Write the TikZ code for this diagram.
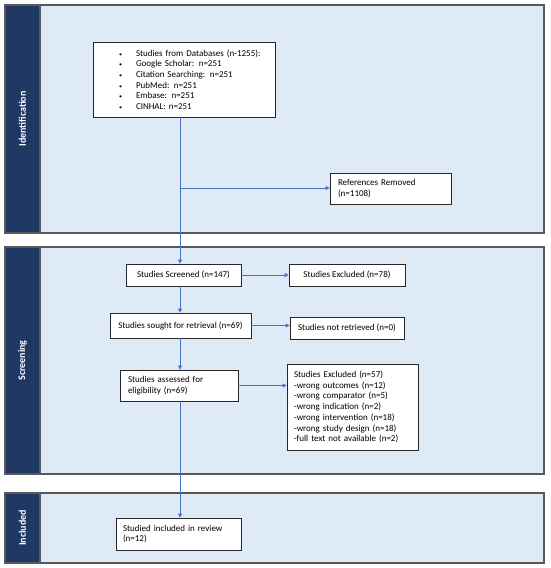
\documentclass[tikz,border=0pt]{standalone}
\usepackage{fontspec}
\setmainfont{Carlito}
\usetikzlibrary{arrows.meta}
\definecolor{panelblue}{HTML}{DEEBF7}
\definecolor{sidenavy}{HTML}{1F3864}
\definecolor{flowblue}{HTML}{4472C4}
\def\dbitem#1{\hspace*{26pt}\makebox[17pt][l]{\fontsize{6}{6}\selectfont\textbullet}#1}

\begin{document}
\begin{tikzpicture}[x=1pt,y=-1pt,
  panel/.style={draw=black!65, line width=1.1pt, fill=panelblue},
  sidebar/.style={draw=black!65, line width=1.1pt, fill=sidenavy},
  phase/.style={rotate=90, text=white, font=\fontsize{10}{12}\selectfont\bfseries},
  box/.style={draw=black!85, fill=white, line width=0.8pt, inner ysep=0pt,
    align=left, font=\fontsize{9}{10.7}\selectfont},
  arr/.style={draw=flowblue, line width=0.8pt, -{Triangle[length=4pt,width=4pt]}}]
\useasboundingbox (0,0) rectangle (550,568);
% phases
\draw[panel] (5,5) rectangle (544,233);
\draw[sidebar] (5,5) rectangle (40,233);
\node[phase] (ident) at (22.5,119) {Identification};
\draw[panel] (5,247) rectangle (544,474);
\draw[sidebar] (5,247) rectangle (40,474);
\node[phase] (screen) at (22.5,360.5) {Screening};
\draw[panel] (5,493) rectangle (544,563);
\draw[sidebar] (5,493) rectangle (40,563);
\node[phase] (incl) at (22.5,528) {Included};
% boxes
\node[box, inner xsep=0pt, text width=182pt, minimum height=75pt] (db) at (184,79.5)
  {\dbitem{Studies from Databases (n-1255):}\\
   \dbitem{Google Scholar: n=251}\\
   \dbitem{Citation Searching: n=251}\\
   \dbitem{PubMed: n=251}\\
   \dbitem{Embase: n=251}\\
   \dbitem{CINHAL: n=251}};
\node[box, inner xsep=8pt, text width=105pt, minimum height=31pt] (removed) at (390.5,188.5)
  {References Removed\\(n=1108)};
\node[box, inner xsep=2pt, minimum width=115pt, minimum height=22pt] (screened) at (183.5,275)
  {Studies Screened (n=147)};
\node[box, inner xsep=2pt, minimum width=116pt, minimum height=22pt] (excl78) at (347,275)
  {Studies Excluded (n=78)};
\node[box, inner xsep=2pt, minimum width=141pt, minimum height=25pt] (sought) at (180.5,325.5)
  {Studies sought for retrieval (n=69)};
\node[box, inner xsep=2pt, minimum width=114pt, minimum height=22pt] (notret) at (347,328)
  {Studies not retrieved (n=0)};
\node[box, inner xsep=8pt, text width=102pt, minimum height=31pt] (assessed) at (179,385.5)
  {Studies assessed for\\eligibility (n=69)};
\node[box, inner xsep=7pt, text width=117pt, minimum height=86pt] (excl57) at (352.5,407)
  {Studies Excluded (n=57)\\
   -wrong outcomes (n=12)\\
   -wrong comparator (n=5)\\
   -wrong indication (n=2)\\
   -wrong intervention (n=18)\\
   -wrong study design (n=18)\\
   -full text not available (n=2)};
\node[box, inner xsep=7pt, text width=111pt, minimum height=32pt] (included) at (178.5,534)
  {Studied included in review\\(n=12)};
% flow
\coordinate (split) at (180,188);
\draw[arr] (db.south -| split) -- (screened.north -| split);
\draw[arr] (split) -- (removed.west |- split);
\draw[arr] (screened.east) -- (excl78.west);
\draw[arr] (screened.south -| split) -- (sought.north -| split);
\draw[arr] (sought.east) -- (sought.east -| notret.west);
\draw[arr] (sought.south -| split) -- (assessed.north -| split);
\draw[arr] (assessed.east) -- (assessed.east -| excl57.west);
\draw[arr] (assessed.south -| split) -- (included.north -| split);
\end{tikzpicture}
\end{document}
